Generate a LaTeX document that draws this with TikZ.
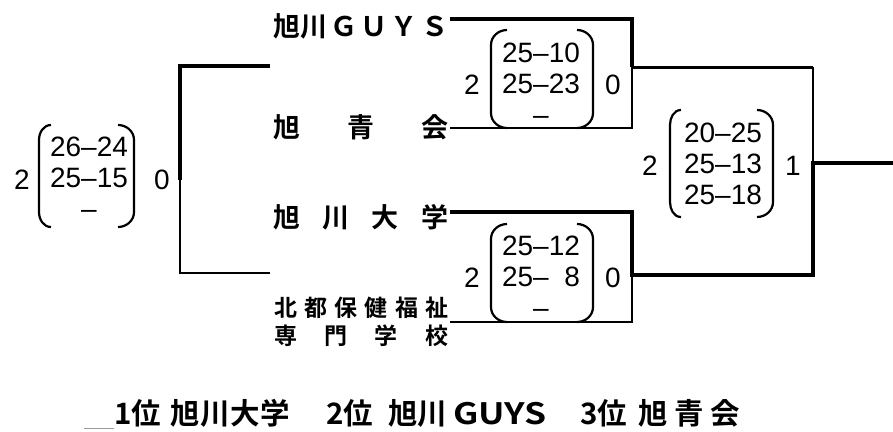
\documentclass[tikz,border=0pt]{standalone}
\usepackage{fontspec}
\setmainfont{Liberation Sans}
\newfontfamily\jp{Noto Sans CJK JP}[BoldFont={Noto Sans CJK JP Bold}]
\newcommand\lparen[4]{\draw[paren] (#2,#3) to[out=180,in=90] (#1,#3+15) -- (#1,#4-15) to[out=-90,in=180] (#2,#4);}
\newcommand\rparen[4]{\draw[paren] (#2,#3) to[out=0,in=90] (#1,#3+15) -- (#1,#4-15) to[out=-90,in=0] (#2,#4);}
\tikzset{
 thickline/.style={line width=4pt, line join=miter},
 midline/.style={line width=3pt, line join=miter},
 thinline/.style={line width=1.8pt, line join=miter},
 paren/.style={line width=2.2pt},
 score/.style={inner sep=0pt, align=center, font=\fontsize{28}{31}\selectfont},
 num/.style={inner sep=0pt, font=\fontsize{28}{31}\selectfont},
 team/.style={inner sep=0pt, anchor=west, font=\jp\bfseries\fontsize{27}{27}\selectfont},
 smallteam/.style={inner sep=0pt, anchor=west, font=\jp\bfseries\fontsize{23}{23}\selectfont},
 rank/.style={inner sep=0pt, anchor=west, font=\jp\bfseries\fontsize{29.5}{29.5}\selectfont},
}
\begin{document}
\begin{tikzpicture}[x=1pt,y=-1pt]
\useasboundingbox (0,0) rectangle (893,431);
% team names
\node[team] (t1) at (273,26) {\makebox[175pt]{旭川\hfill Ｇ\hfill Ｕ\hfill Ｙ\hfill Ｓ}};
\node[team] (t2) at (273,127) {\makebox[175pt]{旭\hfill 青\hfill 会}};
\node[team] (t3) at (273,217) {\makebox[175pt]{旭\hfill 川\hfill 大\hfill 学}};
\node[smallteam] (t4a) at (274,308) {\makebox[174pt]{北\hfill 都\hfill 保\hfill 健\hfill 福\hfill 祉}};
\node[smallteam] (t4b) at (274,336) {\makebox[174pt]{専\hfill 門\hfill 学\hfill 校}};
% bracket points
\coordinate (a1) at (450,19);
\coordinate (a2) at (632,19);
\coordinate (a3) at (632,67);
\coordinate (a4) at (632,128);
\coordinate (a5) at (450,128);
\coordinate (b1) at (450,212);
\coordinate (b2) at (632,212);
\coordinate (b3) at (632,275);
\coordinate (b4) at (632,322);
\coordinate (b5) at (450,322);
\coordinate (f1) at (813,67);
\coordinate (f2) at (813,275);
\coordinate (f3) at (813,163);
\coordinate (f4) at (893,163);
\coordinate (l1) at (270,66);
\coordinate (l2) at (180,66);
\coordinate (l3) at (180,180);
\coordinate (l4) at (180,273);
\coordinate (l5) at (270,273);
% top match
\draw[thinline] (a3) -- (a4) -- (a5);
\draw[thickline] (a1) -- (a2) -- (a3);
\draw[midline] (a3) -- (f1);
\draw[thinline] (f1) -- (f3);
% bottom match
\draw[thinline] (b3) -- (b4) -- (b5);
\draw[thickline] (b1) -- (b2) -- (b3) -- (f2) -- (f3) -- (f4);
% left bracket
\draw[thinline] (l3) -- (l4) -- (l5);
\draw[thickline] (l1) -- (l2) -- (l3);
% scores left
\node[num] (wL) at (22,180) {2};
\node[score] (sL) at (89,178) {26–24\\25–15\\–};
\node[num] (lL) at (162,180) {0};
\lparen{39}{51}{125}{227}
\rparen{134}{118}{125}{227}
% scores top middle
\node[num] (wA) at (472,85) {2};
\node[score] (sA) at (541,84) {25–10\\25–23\\–};
\node[num] (lA) at (613,85) {0};
\lparen{491}{507}{30}{128}
\rparen{593}{577}{30}{128}
% scores bottom middle
\node[num] (wB) at (472,278) {2};
\node[score] (sB) at (541,277) {25–12\\25–\hphantom{1}8\\–};
\node[num] (lB) at (613,278) {0};
\lparen{491}{507}{224}{322}
\rparen{593}{577}{224}{322}
% final
\node[num] (wF) at (650,166) {2};
\node[score] (sF) at (723,164) {20–25\\25–13\\25–18};
\node[num] (lF) at (793,166) {1};
\lparen{670}{681}{110}{217}
\rparen{773}{757}{110}{217}
% ranking
\draw[black!40, line width=0.8pt] (84,428) -- (114,428);
\node[rank] (r1) at (114,413) {1位};
\node[rank] (r1n) at (170,413) {\makebox[120pt]{旭\hfill 川\hfill 大\hfill 学}};
\node[rank] (r2) at (326,413) {2位};
\node[rank] (r2n) at (388,413) {\makebox[158pt]{旭川\hfill\scalebox{1.2}[1]{GUYS}}};
\node[rank] (r3) at (580,413) {3位};
\node[rank] (r3n) at (638,413) {\makebox[102pt]{旭\hfill 青\hfill 会}};
\end{tikzpicture}
\end{document}
